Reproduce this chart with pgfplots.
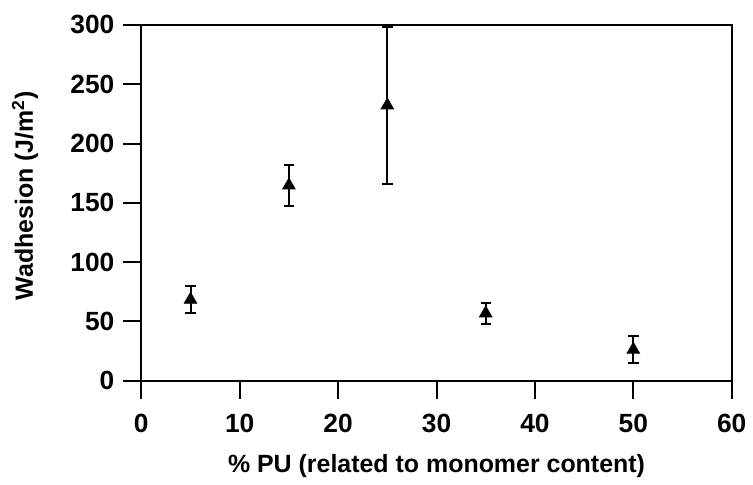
\documentclass[border=0pt]{standalone}
\usepackage{fontspec}
\setmainfont{Liberation Sans}
\usepackage{pgfplots}
\pgfplotsset{compat=1.18}
\begin{document}
\begin{tikzpicture}
\begin{axis}[
 scale only axis,
 width=296pt,height=178.35pt,
 xmin=0,xmax=60,ymin=0,ymax=300,
 xtick={0,10,...,60},ytick={0,50,...,300},
 xtick pos=bottom,ytick pos=left,
 tick align=outside,major tick length=9pt,
 axis line style={line width=1pt},
 every tick/.style={line width=1pt,black},
 /pgf/number format/assume math mode=true,
 tick label style={font=\fontsize{13.2}{15}\selectfont\bfseries},
 label style={font=\fontsize{12.5}{15}\selectfont\bfseries},
 xlabel={\% PU (related to monomer content)},
 ylabel={Wadhesion (J/m\textsuperscript{2})},
 x label style={at={(axis description cs:0.5,-0.241)},anchor=center},
 y label style={at={(axis description cs:-0.197,0.52)},anchor=center},
 xticklabel style={yshift=-4pt},
 yticklabel style={xshift=-1pt},
]
\addplot[only marks,mark=triangle*,mark size=3.6pt,black,
  error bars/.cd,y dir=both,y explicit,
  error bar style={line width=1pt},
  error mark options={rotate=90,mark size=2.6pt,line width=1pt}]
 table[x=x,y=y,y error=e]{
 x y e
 5 68.3 11.6
 15 164.7 17.0
 25 232.2 66.1
 35 56.8 9.1
 50 26.2 11.6
};
\end{axis}
\path ([xshift=-70.85pt,yshift=-50.65pt]current axis.south west) rectangle ([xshift=9.5pt,yshift=12.5pt]current axis.north east);
\end{tikzpicture}
\end{document}
